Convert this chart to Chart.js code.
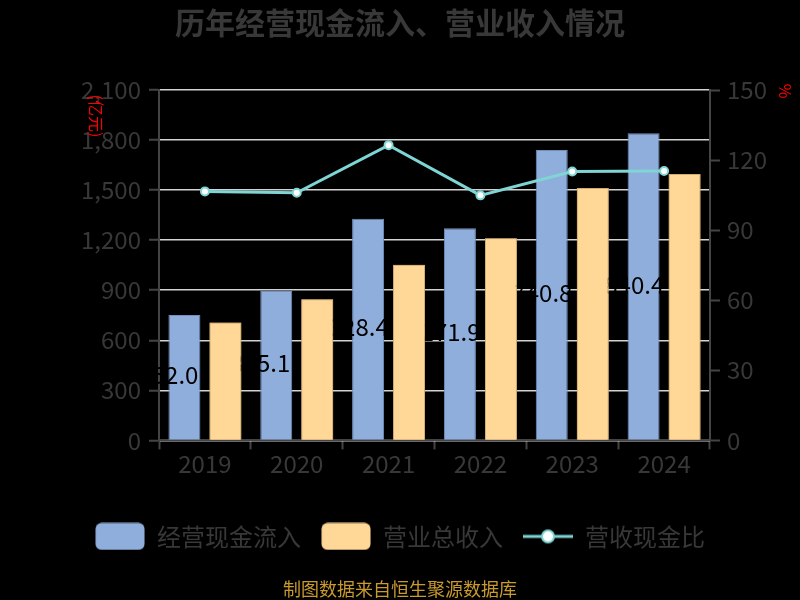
<!DOCTYPE html>
<html><head><meta charset="utf-8">
<script src="https://cdn.jsdelivr.net/npm/chart.js@4.4.1/dist/chart.umd.min.js"></script>
<style>html,body{margin:0;padding:0;background:#000;} #c{display:block;}</style>
</head><body>
<canvas id="c" width="800" height="600"></canvas>
<script>
const categories = ['2019', '2020', '2021', '2022', '2023', '2024'];
const cashInflow = [752.0, 895.1, 1328.4, 1271.9, 1740.8, 1840.4];
const revenue = [706, 846, 1052, 1212, 1512, 1596];
const cashRatio = [106.6, 106.0, 126.4, 104.9, 115.1, 115.3];
const seriesNames = ['经营现金流入', '营业总收入', '营收现金比'];
const leftAxisRange = [0, 2100, 300];
const rightAxisRange = [0, 150, 30];
const titleText = '历年经营现金流入、营业收入情况';
const sourceText = '制图数据来自恒生聚源数据库';
const leftAxisName = '(亿元)';
const rightAxisName = '%';

const FONT = '"Noto Sans CJK SC", "Noto Sans", sans-serif';
const TXT = '#383838';
const BLUE = '#8FAEDB', ORANGE = '#FFD797', TEAL = '#7FD4D4';

function boxIcon(color) {
  const c = document.createElement('canvas'); c.width = 50; c.height = 28;
  const g = c.getContext('2d');
  g.fillStyle = color;
  g.beginPath(); g.roundRect(0.5, 0.5, 49, 27, 6); g.fill();
  return c;
}
function lineIcon(color) {
  const c = document.createElement('canvas'); c.width = 50; c.height = 28;
  const g = c.getContext('2d');
  g.strokeStyle = color; g.lineWidth = 3;
  g.beginPath(); g.moveTo(0, 14); g.lineTo(50, 14); g.stroke();
  g.fillStyle = '#fff'; g.lineWidth = 2;
  g.beginPath(); g.arc(25, 14, 6, 0, Math.PI * 2); g.fill(); g.stroke();
  return c;
}
const icons = [boxIcon(BLUE), boxIcon(ORANGE), lineIcon(TEAL)];

const extras = {
  id: 'extras',
  afterDatasetDraw(chart, args) {
    if (args.index !== 0) return;
    const ctx = chart.ctx;
    const meta = chart.getDatasetMeta(0);
    ctx.save();
    ctx.font = '24px ' + FONT;
    ctx.fillStyle = '#000';
    ctx.textAlign = 'center';
    ctx.textBaseline = 'middle';
    meta.data.forEach((bar, i) => {
      ctx.fillText(cashInflow[i].toFixed(1), bar.x - bar.width / 2, (bar.y + bar.base) / 2 - 2);
    });
    ctx.restore();
    // revenue bars sit above the cash-inflow labels
    chart.getDatasetMeta(1).controller.draw();
  },
  afterDraw(chart) {
    const ctx = chart.ctx, a = chart.chartArea;
    ctx.save();
    ctx.fillStyle = '#ff0000';
    ctx.font = '16px ' + FONT;
    ctx.textAlign = 'center';
    ctx.textBaseline = 'middle';
    ctx.translate(a.left - 63, a.top + 26);
    ctx.rotate(Math.PI / 2);
    ctx.fillText(leftAxisName, 0, 0);
    ctx.restore();
    ctx.save();
    ctx.fillStyle = '#ff0000';
    ctx.font = '16px ' + FONT;
    ctx.textAlign = 'center';
    ctx.textBaseline = 'middle';
    ctx.translate(a.right + 75, a.top + 1);
    ctx.rotate(Math.PI / 2);
    ctx.fillText(rightAxisName, 0, 0);
    ctx.restore();
  }
};

new Chart(document.getElementById('c'), {
  data: {
    labels: categories,
    datasets: [
      { type: 'bar', label: seriesNames[0], data: cashInflow, backgroundColor: BLUE, borderColor: '#7290bd', borderWidth: 1, yAxisID: 'y', order: 1, categoryPercentage: 0.893, barPercentage: 0.78 },
      { type: 'bar', label: seriesNames[1], data: revenue, backgroundColor: ORANGE, borderColor: '#d2ad6e', borderWidth: 1, yAxisID: 'y', order: 1, categoryPercentage: 0.893, barPercentage: 0.78 },
      { type: 'line', label: seriesNames[2], data: cashRatio, borderColor: TEAL, borderWidth: 3, tension: 0, pointRadius: 4, pointBackgroundColor: '#fff', pointBorderColor: TEAL, pointBorderWidth: 2, yAxisID: 'y1', order: 0 }
    ]
  },
  options: {
    responsive: false,
    animation: false,
    layout: { padding: 0 },
    plugins: {
      tooltip: { enabled: false },
      title: { display: true, text: titleText, color: TXT, font: { family: FONT, size: 30, weight: 'bold' }, padding: { top: 5, bottom: 49 } },
      subtitle: { display: true, position: 'bottom', text: sourceText, color: '#C99A2E', font: { family: FONT, size: 18 }, padding: { top: 20, bottom: 0 } },
      legend: {
        position: 'bottom',
        labels: {
          usePointStyle: true, pointStyleWidth: 50, padding: 20, color: TXT,
          font: { family: FONT, size: 24 },
          generateLabels(chart) {
            return chart.data.datasets.map((ds, i) => ({
              text: ds.label, pointStyle: icons[i], fontColor: TXT, hidden: false, datasetIndex: i, lineWidth: 0, strokeStyle: 'transparent', fillStyle: 'transparent'
            }));
          }
        }
      }
    },
    scales: {
      x: {
        grid: { offset: true, drawOnChartArea: false, tickColor: '#444', tickLength: 9, tickWidth: 2 },
        border: { color: '#444', width: 2 },
        ticks: { color: TXT, font: { family: FONT, size: 24 }, padding: 0 },
        afterFit(s) { s.height = 64; }
      },
      y: {
        position: 'left', min: leftAxisRange[0], max: leftAxisRange[1],
        ticks: { stepSize: leftAxisRange[2], color: TXT, font: { family: FONT, size: 24 }, padding: 8 },
        grid: { color: '#d3d3d3', lineWidth: 1.5, tickColor: '#444', tickLength: 10, tickWidth: 2 },
        border: { color: '#444', width: 2 },
        afterFit(s) { s.width = 159; }
      },
      y1: {
        position: 'right', min: rightAxisRange[0], max: rightAxisRange[1],
        ticks: { stepSize: rightAxisRange[2], color: TXT, font: { family: FONT, size: 24 }, padding: 7 },
        grid: { drawOnChartArea: false, tickColor: '#444', tickLength: 10, tickWidth: 2 },
        border: { color: '#444', width: 2 },
        afterFit(s) { s.width = 90; }
      }
    }
  },
  plugins: [extras]
});
</script>
</body></html>
